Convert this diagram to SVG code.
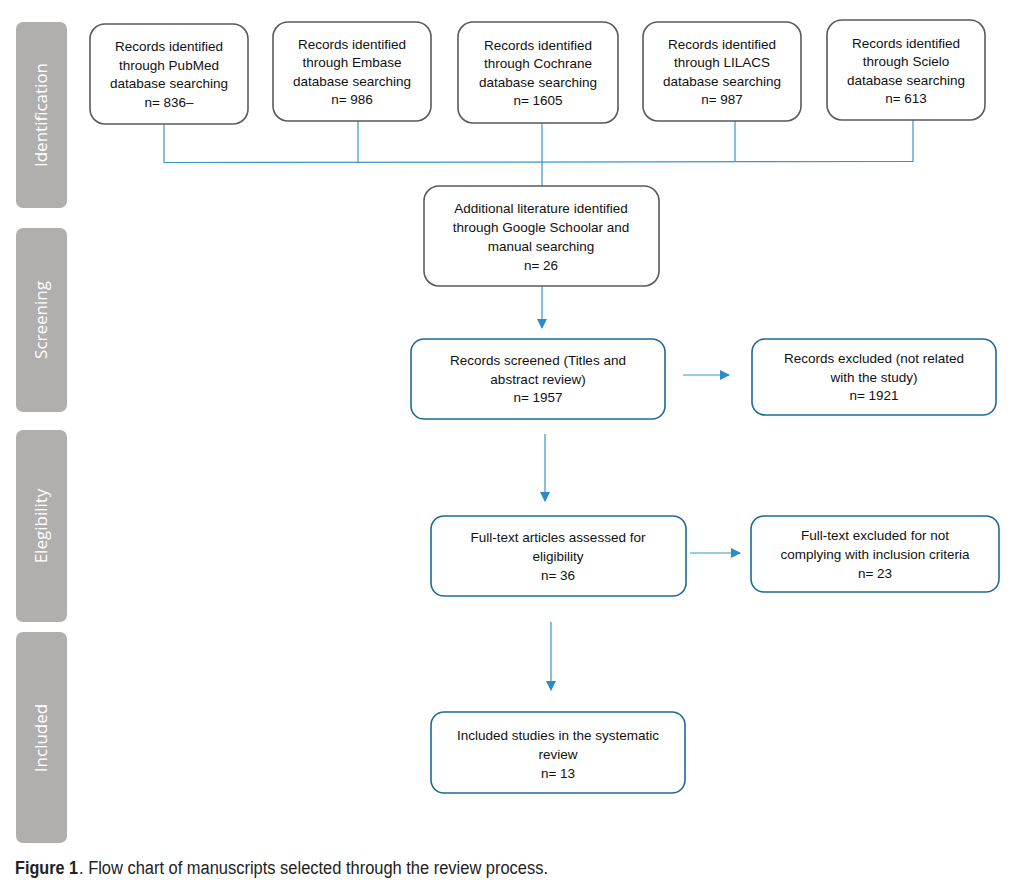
<svg xmlns="http://www.w3.org/2000/svg" width="1017" height="893" viewBox="0 0 1017 893">
<style>
.bar{fill:#b1aeae}
.bartxt{font-family:"Open Sans",sans-serif;font-size:17px;fill:#ffffff;text-anchor:middle}
.gbox{fill:#ffffff;stroke:#5a5a5a;stroke-width:1.6}
.bbox{fill:#ffffff;stroke:#1f6a94;stroke-width:1.6}
.t{font-family:"Liberation Sans",Arial,sans-serif;font-size:13.5px;fill:#111111;text-anchor:middle}
.ln{stroke:#3a95cc;stroke-width:1.2;fill:none}
.arr{stroke:#3a95cc;stroke-width:1.2;fill:none;marker-end:url(#ah)}
.cap{font-family:"Liberation Sans",Arial,sans-serif;font-size:18px;fill:#222222}
</style>
<defs>
<marker id="ah" markerWidth="10" markerHeight="10" refX="9" refY="5" orient="auto" markerUnits="userSpaceOnUse">
<path d="M0,0 L10,5 L0,10 Z" fill="#2a8cc8"/>
</marker>
</defs>
<rect width="1017" height="893" fill="#ffffff"/>
<g id="phases">
<g id="phase-identification"><rect class="bar" x="16" y="22" width="51" height="186" rx="7"/><text class="bartxt" transform="translate(47,115) rotate(-90)">Identification</text></g>
<g id="phase-screening"><rect class="bar" x="16" y="228" width="51" height="184" rx="7"/><text class="bartxt" transform="translate(47,320) rotate(-90)">Screening</text></g>
<g id="phase-elegibility"><rect class="bar" x="16" y="430" width="51" height="192" rx="7"/><text class="bartxt" transform="translate(47,526) rotate(-90)">Elegibility</text></g>
<g id="phase-included"><rect class="bar" x="16" y="632" width="51" height="211" rx="7"/><text class="bartxt" transform="translate(47,738) rotate(-90)">Included</text></g>
</g>
<g id="connectors">
<line class="ln" x1="164" y1="124" x2="164" y2="163"/>
<line class="ln" x1="358" y1="121" x2="358" y2="163"/>
<line class="ln" x1="542" y1="123" x2="542" y2="186"/>
<line class="ln" x1="735" y1="121" x2="735" y2="162"/>
<line class="ln" x1="913" y1="120" x2="913" y2="162"/>
<line class="ln" x1="164" y1="162.5" x2="913" y2="161.5"/>
<line class="arr" x1="542" y1="286" x2="542" y2="328"/>
<line class="arr" x1="683" y1="375" x2="729" y2="375"/>
<line class="arr" x1="545" y1="434" x2="545" y2="501"/>
<line class="arr" x1="690" y1="553" x2="740" y2="553"/>
<line class="arr" x1="551" y1="622" x2="551" y2="690"/>
</g>
<g id="n-pubmed"><rect class="gbox" x="90" y="24" width="158" height="100" rx="15"/>
<text class="t" x="169" y="51">Records identified</text><text class="t" x="169" y="70">through PubMed</text><text class="t" x="169" y="88">database searching</text><text class="t" x="169" y="107">n= 836–</text></g>
<g id="n-embase"><rect class="gbox" x="273" y="22" width="158" height="99" rx="15"/>
<text class="t" x="352" y="49">Records identified</text><text class="t" x="352" y="67">through Embase</text><text class="t" x="352" y="86">database searching</text><text class="t" x="352" y="104">n= 986</text></g>
<g id="n-cochrane"><rect class="gbox" x="458" y="22" width="160" height="101" rx="15"/>
<text class="t" x="538" y="50">Records identified</text><text class="t" x="538" y="68">through Cochrane</text><text class="t" x="538" y="87">database searching</text><text class="t" x="538" y="105">n= 1605</text></g>
<g id="n-lilacs"><rect class="gbox" x="643" y="22" width="158" height="99" rx="15"/>
<text class="t" x="722" y="49">Records identified</text><text class="t" x="722" y="67">through LILACS</text><text class="t" x="722" y="86">database searching</text><text class="t" x="722" y="104">n= 987</text></g>
<g id="n-scielo"><rect class="gbox" x="827" y="20" width="158" height="100" rx="15"/>
<text class="t" x="906" y="48">Records identified</text><text class="t" x="906" y="66">through Scielo</text><text class="t" x="906" y="85">database searching</text><text class="t" x="906" y="103">n= 613</text></g>
<g id="n-additional"><rect class="gbox" x="424" y="186" width="235" height="100" rx="15"/>
<text class="t" x="541" y="213">Additional literature identified</text><text class="t" x="541" y="232">through Google Schoolar and</text><text class="t" x="541" y="251">manual searching</text><text class="t" x="541" y="270">n= 26</text></g>
<g id="n-screened"><rect class="bbox" x="411" y="339" width="254" height="80" rx="13"/>
<text class="t" x="538" y="365">Records screened (Titles and</text><text class="t" x="538" y="384">abstract review)</text><text class="t" x="538" y="402">n= 1957</text></g>
<g id="n-excluded1"><rect class="bbox" x="752" y="339" width="244" height="76" rx="13"/>
<text class="t" x="874" y="363">Records excluded (not related</text><text class="t" x="874" y="382">with the study)</text><text class="t" x="874" y="400">n= 1921</text></g>
<g id="n-fulltext"><rect class="bbox" x="431" y="516" width="255" height="80" rx="13"/>
<text class="t" x="558" y="542">Full-text articles assessed for</text><text class="t" x="558" y="561">eligibility</text><text class="t" x="558" y="580">n= 36</text></g>
<g id="n-excluded2"><rect class="bbox" x="751" y="516" width="248" height="76" rx="13"/>
<text class="t" x="875" y="540">Full-text excluded for not</text><text class="t" x="875" y="559">complying with inclusion criteria</text><text class="t" x="875" y="578">n= 23</text></g>
<g id="n-included"><rect class="bbox" x="431" y="712" width="254" height="81" rx="13"/>
<text class="t" x="558" y="740">Included studies in the systematic</text><text class="t" x="558" y="759">review</text><text class="t" x="558" y="778">n= 13</text></g>
<g id="caption"><text class="cap" x="15" y="874"><tspan font-weight="bold" textLength="63" lengthAdjust="spacingAndGlyphs">Figure 1</tspan><tspan dx="1" textLength="469" lengthAdjust="spacingAndGlyphs">.  Flow chart of manuscripts selected through the review process.</tspan></text></g>
</svg>
